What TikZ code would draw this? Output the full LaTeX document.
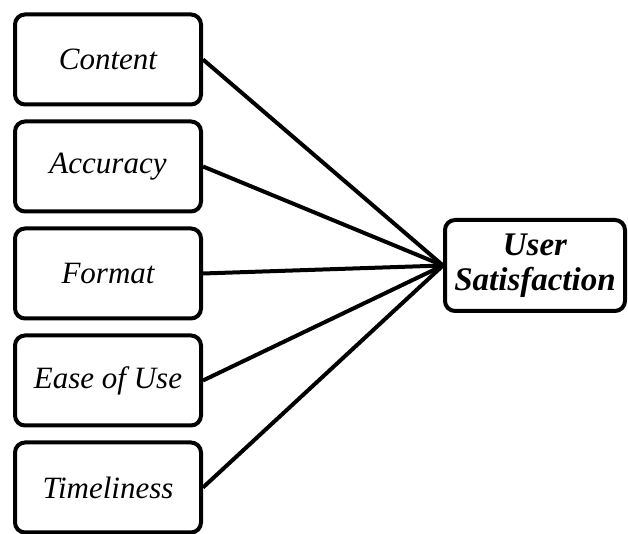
\documentclass[tikz,border=0pt]{standalone}
\usepackage{fontspec}
\setmainfont{Liberation Serif}
\begin{document}
\begin{tikzpicture}[x=0.5pt, y=0.5pt]
    \tikzset{
        factor/.style={draw, line width=2pt, rounded corners=5pt, minimum width=93pt, minimum height=45pt, align=center, inner sep=1pt, font=\fontsize{15.5}{17}\selectfont\itshape},
        outcome/.style={factor, minimum width=90pt, minimum height=45.5pt, font=\fontsize{16.5}{17.5}\selectfont\bfseries\itshape},
        link/.style={line width=2pt}
    }
    \useasboundingbox (0,0) rectangle (628,534);
    % Draw factors
    \node [factor] (cont) at (108, 474.5) {Content};
    \node [factor] (acc) at (108, 367.5) {Accuracy};
    \node [factor] (form) at (108, 260.5) {Format};
    \node [factor] (ease) at (108, 153.5) {Ease of Use};
    \node [factor] (time) at (108, 46.5) {Timeliness};
    % Draw outcome
    \node [outcome] (sat) at (535, 268.5) {User\\Satisfaction};
    % Draw links
    \foreach \f in {cont, acc, form, ease, time}
        \draw [link] (\f.east) -- (sat.west);
\end{tikzpicture}
\end{document}
